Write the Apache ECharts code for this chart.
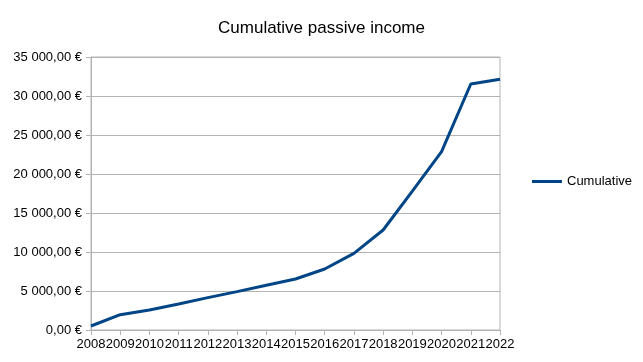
<!DOCTYPE html>
<html><head><meta charset="utf-8">
<script src="https://cdn.jsdelivr.net/npm/echarts@6/dist/echarts.min.js"></script>
<style>html,body{margin:0;padding:0;background:#fff}#c{width:643px;height:362px}</style>
</head><body><div id="c"></div>
<script>
const title = "Cumulative passive income";
const seriesName = "Cumulative";
const years = ["2008","2009","2010","2011","2012","2013","2014","2015","2016","2017","2018","2019","2020","2021","2022"];
const cumulative = [510, 1960, 2560, 3330, 4150, 4920, 5730, 6540, 7820, 9830, 12820, 17800, 22860, 31540, 32140];
const yMin = 0, yMax = 35000, yStep = 5000;

function fmt(v){
  const s = Math.round(v).toString().replace(/\B(?=(\d{3})+(?!\d))/g, " ");
  return s + ",00 €";
}
const font = "Liberation Sans";
const chart = echarts.init(document.getElementById('c'));
chart.setOption({
  animation:false,
  backgroundColor:'#fff',
  textStyle:{fontFamily:font},
  title:{text:title,left:'center',top:15,textStyle:{fontFamily:font,fontSize:17,fontWeight:'normal',color:'#000'}},
  legend:{data:[seriesName],left:532,top:175,padding:0,icon:'rect',itemWidth:30,itemHeight:3,itemGap:5,
    textStyle:{fontFamily:font,fontSize:13,color:'#000'}},
  grid:{left:91,right:143,top:57,bottom:32,show:true,borderColor:'#b3b3b3',borderWidth:1,containLabel:false},
  xAxis:{type:'category',data:years,boundaryGap:false,
    axisLine:{lineStyle:{color:'#b3b3b3'}},
    axisTick:{show:true,length:5,lineStyle:{color:'#b3b3b3'},alignWithLabel:true},
    axisLabel:{interval:0,color:'#000',fontSize:13,fontFamily:font,margin:8},
    splitLine:{show:false}},
  yAxis:{type:'value',min:yMin,max:yMax,interval:yStep,
    axisLine:{show:true,lineStyle:{color:'#b3b3b3'}},
    axisTick:{show:true,length:5,lineStyle:{color:'#b3b3b3'}},
    axisLabel:{formatter:fmt,color:'#000',fontSize:13,fontFamily:font,margin:9},
    splitLine:{show:true,lineStyle:{color:'#b3b3b3'}}},
  series:[{name:seriesName,type:'line',data:cumulative,symbol:'none',
    lineStyle:{color:'#004586',width:3},itemStyle:{color:'#004586'}}]
});
</script></body></html>
